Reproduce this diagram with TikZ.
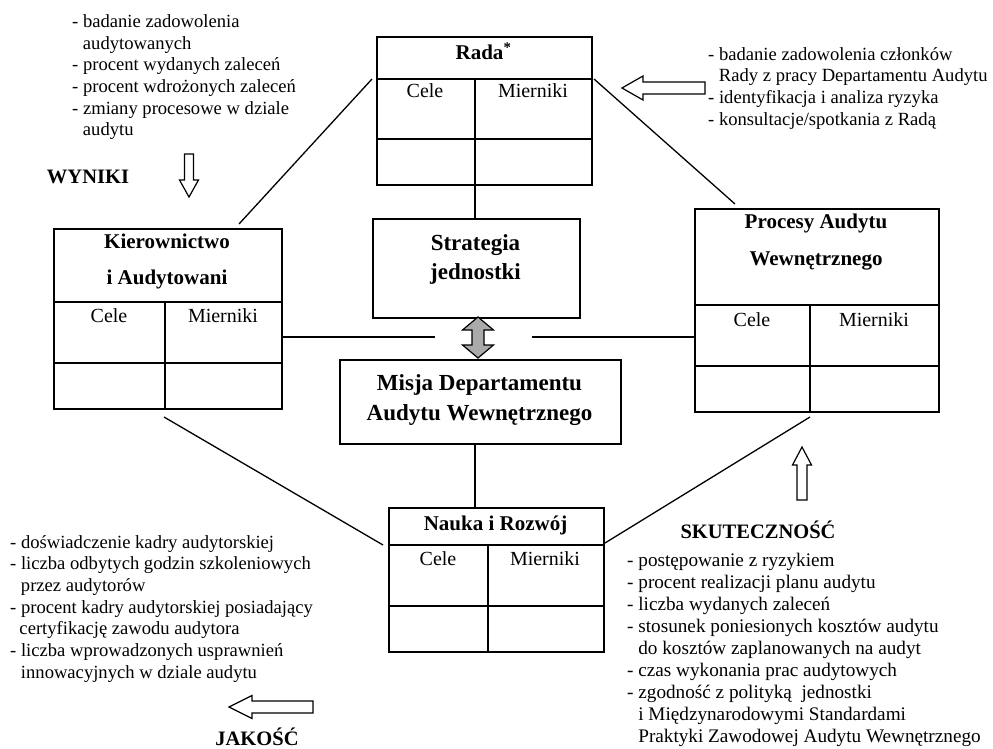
\documentclass[tikz,border=0pt]{standalone}
\usepackage{fontspec}
\setmainfont{Liberation Serif}
\usetikzlibrary{calc}
\definecolor{arrowgray}{RGB}{170,170,170}
\begin{document}
\begin{tikzpicture}[x=1pt,y=-1pt,
  box/.style={draw, line width=2pt, inner sep=0pt, anchor=north west},
  cbox/.style={draw, line width=1.5pt, inner sep=0pt, anchor=north west},
  gridline/.style={line width=2pt},
  conn/.style={line width=1.3pt},
  headtxt/.style={font=\fontsize{21}{25}\selectfont\bfseries, inner sep=0pt, anchor=base},
  celltxt/.style={font=\fontsize{20}{24}\selectfont, inner sep=0pt, anchor=base},
  ctitle/.style={font=\fontsize{23}{28}\selectfont\bfseries, inner sep=0pt, anchor=base},
  sidetxt/.style={font=\fontsize{18.6}{21.7}\selectfont, inner sep=0pt, anchor=north west, align=left},
  sidetxtr/.style={font=\fontsize{19.2}{22}\selectfont, inner sep=0pt, anchor=north west, align=left},
  captxt/.style={font=\fontsize{20.5}{24}\selectfont\bfseries, inner sep=0pt, anchor=base},
  blockarrow/.style={draw, line width=1.2pt, fill=white, line join=miter},
]
\useasboundingbox (0,0) rectangle (993,749);

% ---------- boxes ----------
\node[box, minimum width=215pt, minimum height=148pt] (rada) at (376,36) {};
\draw[gridline] ($(rada.north west)+(0,43)$) -- ($(rada.north east)+(0,43)$);
\draw[gridline] ($(rada.north west)+(0,103)$) -- ($(rada.north east)+(0,103)$);
\draw[gridline] ($(rada.north west)+(99,43)$) -- ($(rada.south west)+(99,0)$);

\node[box, minimum width=228pt, minimum height=180pt] (kier) at (53,228) {};
\draw[gridline] ($(kier.north west)+(0,74)$) -- ($(kier.north east)+(0,74)$);
\draw[gridline] ($(kier.north west)+(0,135)$) -- ($(kier.north east)+(0,135)$);
\draw[gridline] ($(kier.north west)+(112,74)$) -- ($(kier.south west)+(112,0)$);

\node[box, minimum width=244pt, minimum height=203pt] (proc) at (694,208) {};
\draw[gridline] ($(proc.north west)+(0,97)$) -- ($(proc.north east)+(0,97)$);
\draw[gridline] ($(proc.north west)+(0,158)$) -- ($(proc.north east)+(0,158)$);
\draw[gridline] ($(proc.north west)+(116,97)$) -- ($(proc.south west)+(116,0)$);

\node[box, minimum width=215pt, minimum height=144pt] (nauka) at (388,507) {};
\draw[gridline] ($(nauka.north west)+(0,38)$) -- ($(nauka.north east)+(0,38)$);
\draw[gridline] ($(nauka.north west)+(0,99)$) -- ($(nauka.north east)+(0,99)$);
\draw[gridline] ($(nauka.north west)+(100,38)$) -- ($(nauka.south west)+(100,0)$);

\node[cbox, minimum width=207pt, minimum height=99pt] (strat) at (372,218) {};
\node[cbox, minimum width=281pt, minimum height=84pt] (misja) at (339,359) {};

% ---------- box texts ----------
\node[headtxt] (radaT) at (483.5,60) {Rada\textsuperscript{*}};
\node[celltxt] (radaC) at (425,98) {Cele};
\node[celltxt] (radaM) at (533,98) {Mierniki};

\node[headtxt] (kierT1) at (167,248) {Kierownictwo};
\node[headtxt] (kierT2) at (167,284) {i Audytowani};
\node[celltxt] (kierC) at (109,322) {Cele};
\node[celltxt] (kierM) at (223,322) {Mierniki};

\node[headtxt] (procT1) at (816,228) {Procesy Audytu};
\node[headtxt] (procT2) at (816,265) {Wewnętrznego};
\node[celltxt] (procC) at (752,326) {Cele};
\node[celltxt] (procM) at (874,326) {Mierniki};

\node[headtxt] (naukaT) at (495.5,530) {Nauka i Rozwój};
\node[celltxt] (naukaC) at (438,565) {Cele};
\node[celltxt] (naukaM) at (545,565) {Mierniki};

\node[ctitle] (stratT1) at (475.5,250) {Strategia};
\node[ctitle] (stratT2) at (475.5,279) {jednostki};
\node[ctitle] (misjaT1) at (479.5,390) {Misja Departamentu};
\node[ctitle] (misjaT2) at (479.5,420) {Audytu Wewnętrznego};

% ---------- connectors ----------
\draw[conn] ($(rada.north west)+(-4,43)$) -- ($(kier.north west)+(186,-4)$);
\draw[conn] ($(rada.north east)+(1,43)$) -- ($(proc.north west)+(41,-4)$);
\draw[conn] ($(kier.south west)+(111,7)$) -- ($(nauka.north west)+(-5,38)$);
\draw[conn] ($(nauka.north east)+(0,36)$) -- ($(proc.south west)+(116,4)$);
\draw[conn] ($(rada.south west)+(99,0)$) -- ($(strat.north west)+(103,0)$);
\draw[conn] ($(misja.south west)+(136,0)$) -- ($(nauka.north west)+(87,0)$);
\coordinate (hl) at (435,337);
\coordinate (hr) at (532,337);
\draw[conn] (kier.east |- hl) -- (hl);
\draw[conn] (hr) -- (proc.west |- hr);

% double arrow
\draw[line width=1.2pt, fill=arrowgray, line join=miter]
  (478,317) -- (493.5,330) -- (484,330) -- (484,345) -- (493.5,345) -- (478,358)
  -- (462.5,345) -- (472,345) -- (472,330) -- (462.5,330) -- cycle;

% ---------- side texts ----------
\node[sidetxt] (tl) at (72,14.2) {- badanie zadowolenia\\\hspace*{0.58em}audytowanych\\- procent wydanych zaleceń\\- procent wdrożonych zaleceń\\- zmiany procesowe w dziale\\\hspace*{0.58em}audytu};

\node[sidetxt] (tr) at (708,47) {- badanie zadowolenia członków\\\hspace*{0.58em}Rady z pracy Departamentu Audytu\\- identyfikacja i analiza ryzyka\\- konsultacje/spotkania z Radą};

\node[sidetxt] (bl) at (10,535) {- doświadczenie kadry audytorskiej\\- liczba odbytych godzin szkoleniowych\\\hspace*{0.58em}przez audytorów\\- procent kadry audytorskiej posiadający\\\hspace*{0.5em}certyfikację zawodu audytora\\- liczba wprowadzonych usprawnień\\\hspace*{0.58em}innowacyjnych w dziale audytu};

\node[sidetxtr] (br) at (627,553) {- postępowanie z ryzykiem\\- procent realizacji planu audytu\\- liczba wydanych zaleceń\\- stosunek poniesionych kosztów audytu\\\hspace*{0.58em}do kosztów zaplanowanych na audyt\\- czas wykonania prac audytowych\\- zgodność z polityką\ \ jednostki\\\hspace*{0.58em}i Międzynarodowymi Standardami\\\hspace*{0.58em}Praktyki Zawodowej Audytu Wewnętrznego};

% ---------- captions ----------
\node[captxt] (wyniki) at (88,183) {WYNIKI};
\node[captxt] (skut) at (758,538) {SKUTECZNOŚĆ};
\node[captxt] (jakosc) at (257,745) {JAKOŚĆ};

% ---------- block arrows ----------
\draw[blockarrow] (184.5,154) -- (193.5,154) -- (193.5,180) -- (198.5,180) -- (189,197)
  -- (179.5,180) -- (184.5,180) -- cycle;
\draw[blockarrow] (797,500) -- (807,500) -- (807,465) -- (811.5,465) -- (802,447)
  -- (792.5,465) -- (797,465) -- cycle;
\draw[blockarrow] (705,82) -- (705,94) -- (643,94) -- (643,100) -- (622,88)
  -- (643,76) -- (643,82) -- cycle;
\draw[blockarrow] (313,701) -- (313,713) -- (252,713) -- (252,718.5) -- (229,707)
  -- (252,695.5) -- (252,701) -- cycle;
\end{tikzpicture}
\end{document}
